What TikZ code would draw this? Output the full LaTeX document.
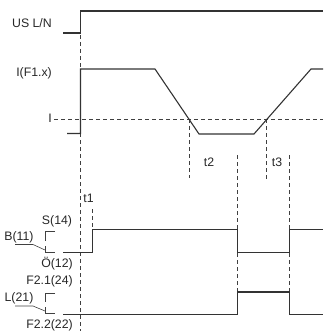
\documentclass[tikz,border=0pt]{standalone}
\usepackage{fontspec}
\setmainfont{Liberation Sans}
\begin{document}
\begin{tikzpicture}[x=1pt,y=-1pt,
  sig/.style={line width=1.1pt,black!80,line join=miter},
  guide/.style={line width=0.6pt,black!75,dash pattern=on 4pt off 3pt},
  thin/.style={line width=0.6pt,black!75},
  lbl/.style={inner sep=0pt,text=black!85,font=\fontsize{12.3}{14}\selectfont}]
\useasboundingbox (0,0) rectangle (323,331);
% guides
\draw[guide] (80.5,35) -- (80.5,331);
\draw[guide] (54,119) -- (323,119);
\draw[guide] (189,119) -- (189,178);
\draw[guide] (266.5,119) -- (266.5,181);
\draw[guide] (237.5,155) -- (237.5,292);
\draw[guide] (289.5,155) -- (289.5,292);
\draw[guide] (92.5,209) -- (92.5,229);
% signals
\draw[sig] (63,33) -- (80.5,33) -- (80.5,11) -- (323,11);
\draw[sig] (67,133.5) -- (80.5,133.5) -- (80.5,69) -- (155,69) -- (199,134) -- (254,134) -- (311,69) -- (323,69);
\draw[sig] (63,252.5) -- (92.5,252.5) -- (92.5,229.5) -- (237.5,229.5) -- (237.5,252.5) -- (289.5,252.5) -- (289.5,229.5) -- (323,229.5);
\draw[sig] (63,314.5) -- (237.5,314.5) -- (237.5,292) -- (289.5,292) -- (289.5,314.5) -- (323,314.5);
% contact symbols
\draw[thin] (55,231) -- (45,231) -- (45,241);
\draw[thin] (45,246) -- (45,252.5) (45,252.5) -- (55,252.5);
\draw[thin] (15,244.5) -- (33,244.5) -- (45,250);
\draw[thin] (55,293) -- (45,293) -- (45,302);
\draw[thin] (45,307) -- (45,313.5) (45,313.5) -- (55,313.5);
\draw[thin] (15,306) -- (33,306) -- (45,311);
% labels
\node[lbl,anchor=east] (usln) at (52,23) {US L/N};
\node[lbl,anchor=east] (iF) at (52,73) {I(F1.x)};
\node[lbl] (ithr) at (50,118) {I};
\node[lbl] (t2) at (209,162) {t2};
\node[lbl] (t3) at (277,162) {t3};
\node[lbl] (t1) at (88.5,198) {t1};
\node[lbl] (s14) at (57,221) {S(14)};
\node[lbl] (b11) at (19,237) {B(11)};
\node[lbl] (o12) at (57,264) {Ö(12)};
\node[lbl] (f21) at (49.5,281) {F2.1(24)};
\node[lbl] (l21) at (19,298) {L(21)};
\node[lbl] (f22) at (49.5,325) {F2.2(22)};
\end{tikzpicture}
\end{document}
